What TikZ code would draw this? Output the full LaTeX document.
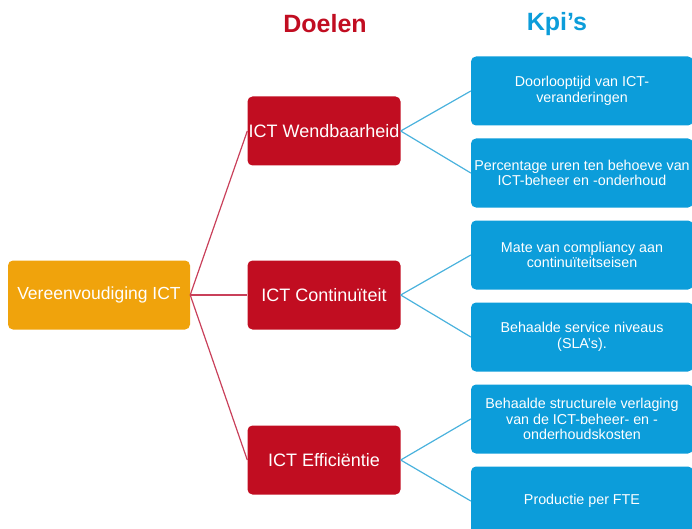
\documentclass[tikz,border=0pt]{standalone}
\usepackage{fontspec}
\setmainfont{Liberation Sans}
\definecolor{rootorange}{HTML}{F0A30C}
\definecolor{doelred}{HTML}{C10D21}
\definecolor{kpiblue}{HTML}{0C9DDA}
\definecolor{redline}{HTML}{C9405A}
\definecolor{blueline}{HTML}{4AB2DD}

\begin{document}
\begin{tikzpicture}[x=1pt, y=-1pt,
  box/.style={rounded corners=5pt, text=white, align=center, inner sep=0pt,
    minimum height=69pt},
  rootbox/.style={box, fill=rootorange, minimum width=182pt,
    font=\fontsize{17.5}{20}\selectfont},
  doelbox/.style={box, fill=doelred, minimum width=153pt,
    font=\fontsize{18}{21}\selectfont},
  kpibox/.style={box, fill=kpiblue, minimum width=222pt,
    font=\fontsize{14.3}{15.5}\selectfont},
  head/.style={font=\fontsize{25}{28}\selectfont\bfseries},
  redlink/.style={draw=redline, line width=1.2pt},
  bluelink/.style={draw=blueline, line width=1.2pt}]
  \useasboundingbox (0,0) rectangle (692,529);
  \clip (0,0) rectangle (692,529);

  \node[head, text=doelred] (doelen) at (325,24) {Doelen};
  \node[head, text=kpiblue] (kpis) at (557,24) {Kpi’s};

  \node[rootbox] (root) at (99,295) {Vereenvoudiging ICT};

  \node[doelbox] (wend) at (324,131) {ICT Wendbaarheid};
  \node[doelbox] (cont) at (324,295) {ICT Continuïteit};
  \node[doelbox] (effi) at (324,460) {ICT Efficiëntie};

  \foreach \txt [count=\n] in {{Doorlooptijd van ICT-\\veranderingen},
    {Percentage uren ten behoeve van\\ICT-beheer en -onderhoud},
    {Mate van compliancy aan\\continuïteitseisen},
    {Behaalde service niveaus\\(SLA’s).},
    {Behaalde structurele verlaging\\van de ICT-beheer- en -\\onderhoudskosten},
    {Productie per FTE}}{
    \node[kpibox] (k\n) at (582,9+82*\n) {\txt};
  }

  \foreach \g/\a/\b in {wend/1/2, cont/3/4, effi/5/6}{
    \draw[redlink] (root.east) -- (\g.west);
    \draw[bluelink] (\g.east) -- (k\a.west);
    \draw[bluelink] (\g.east) -- (k\b.west);
  }
\end{tikzpicture}
\end{document}
